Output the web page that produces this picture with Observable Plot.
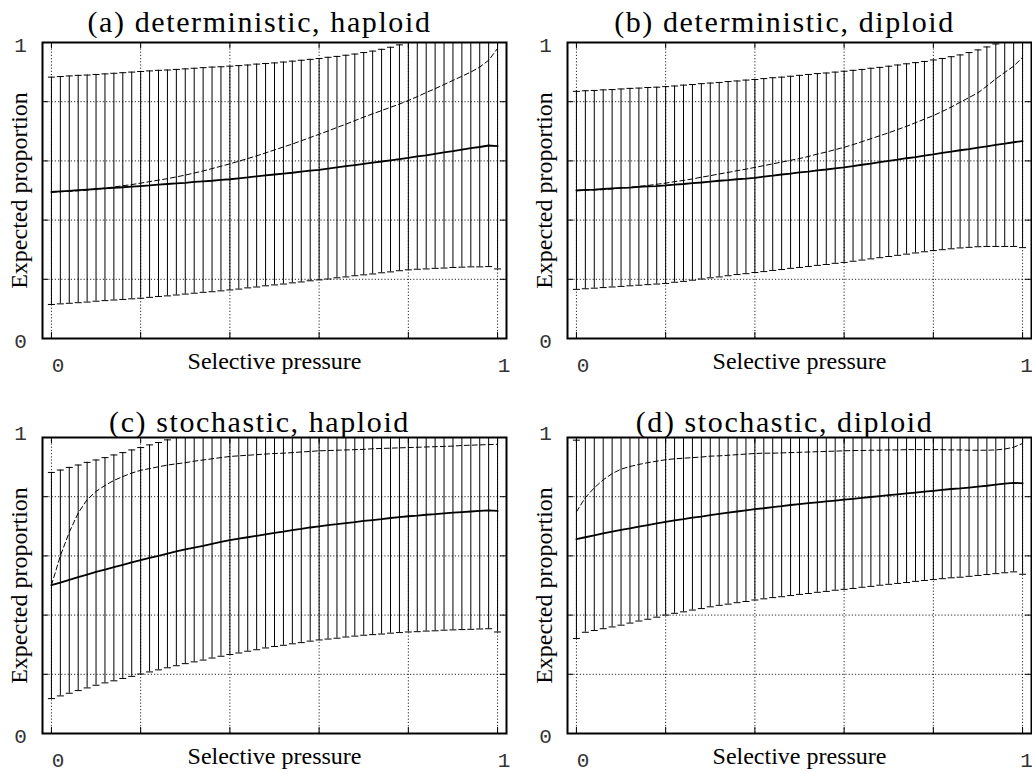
<!DOCTYPE html>
<html><head><meta charset="utf-8">
<script src="https://cdn.jsdelivr.net/npm/d3@7"></script>
<script src="https://cdn.jsdelivr.net/npm/@observablehq/plot@0.6"></script>
<style>
html,body{margin:0;padding:0;background:#fff;overflow:hidden;}
#root{position:relative;width:1032px;height:774px;overflow:hidden;}
.panel{position:absolute;}
</style></head><body><div id="root"></div>
<script>
// ---------- data ----------
const pressure = [0,0.02,0.04,0.06,0.08,0.1,0.12,0.14,0.16,0.18,0.2,0.22,0.24,0.26,0.28,0.3,0.32,0.34,0.36,0.38,0.4,0.42,0.44,0.46,0.48,0.5,0.52,0.54,0.56,0.58,0.6,0.62,0.64,0.66,0.68,0.7,0.72,0.74,0.76,0.78,0.8,0.82,0.84,0.86,0.88,0.9,0.92,0.94,0.96,0.98,1];

const titles = ["(a) deterministic, haploid","(b) deterministic, diploid","(c) stochastic, haploid","(d) stochastic, diploid"];
const yLabel = "Expected proportion";
const xLabel = "Selective pressure";
const xTicks = [0,0.2,0.4,0.6,0.8,1];
const yGrid = [0.2,0.4,0.6,0.8];
const yTicks = [0,0.2,0.4,0.6,0.8,1];

// (a) deterministic, haploid
const meanA = [.495,.497,.499,.501,.503,.505,.507,.509,.511,.513,.515,.517,.520,.522,.524,.526,.529,.531,.533,.536,.538,.541,.544,.548,.551,.554,.557,.560,.564,.567,.570,.574,.578,.582,.586,.590,.594,.598,.602,.606,.610,.615,.619,.624,.629,.633,.638,.643,.647,.652,.650];
const dashA = [.495,.496,.497,.499,.501,.505,.508,.512,.516,.520,.525,.530,.535,.540,.546,.552,.559,.566,.574,.582,.590,.599,.608,.617,.627,.637,.647,.657,.668,.679,.690,.701,.713,.724,.736,.748,.759,.770,.781,.792,.804,.817,.831,.844,.858,.872,.886,.900,.917,.940,.980];
const lowerA = [.115,.117,.119,.121,.123,.126,.128,.130,.132,.134,.136,.139,.142,.144,.147,.150,.153,.156,.158,.161,.164,.167,.171,.174,.178,.181,.184,.188,.191,.195,.198,.201,.205,.208,.212,.215,.218,.222,.225,.229,.232,.234,.235,.237,.238,.240,.241,.242,.242,.243,.235];
const upperA = [.883,.885,.887,.889,.890,.892,.894,.896,.898,.900,.902,.904,.906,.907,.909,.911,.913,.915,.917,.918,.920,.922,.924,.927,.929,.931,.934,.937,.940,.943,.946,.950,.953,.957,.961,.966,.971,.977,.984,.992,1,1,1,1,1,1,1,1,1,1,1];

// (b) deterministic, diploid
const meanB = [.500,.502,.503,.505,.507,.509,.510,.512,.514,.515,.517,.520,.522,.525,.527,.530,.533,.535,.538,.540,.543,.547,.550,.554,.557,.561,.564,.568,.571,.575,.578,.582,.587,.591,.596,.600,.604,.609,.613,.618,.622,.627,.631,.636,.640,.645,.649,.654,.658,.663,.667];
const dashB = [.500,.501,.502,.503,.505,.508,.511,.514,.517,.521,.525,.530,.534,.539,.545,.550,.556,.561,.567,.572,.578,.584,.590,.596,.602,.608,.615,.623,.630,.638,.646,.655,.665,.675,.685,.695,.706,.717,.729,.741,.753,.767,.782,.798,.814,.830,.853,.877,.899,.920,.950];
const lowerB = [.166,.168,.170,.172,.174,.176,.178,.180,.182,.184,.186,.190,.193,.197,.201,.205,.208,.212,.216,.219,.223,.226,.230,.233,.237,.240,.243,.247,.250,.254,.257,.261,.265,.269,.273,.277,.281,.285,.289,.293,.297,.300,.303,.306,.308,.310,.311,.311,.311,.311,.307];
const upperB = [.835,.837,.838,.840,.841,.843,.845,.846,.848,.849,.851,.853,.856,.858,.861,.863,.865,.868,.870,.873,.875,.878,.881,.883,.886,.889,.892,.895,.897,.900,.903,.906,.909,.913,.916,.920,.924,.928,.932,.936,.941,.946,.952,.958,.966,.975,.985,.995,1,1,1];

// (c) stochastic, haploid
const meanC = [.501,.510,.519,.528,.537,.546,.554,.562,.570,.578,.586,.593,.600,.608,.615,.622,.628,.634,.641,.647,.653,.658,.663,.668,.673,.678,.682,.687,.691,.696,.700,.704,.707,.711,.714,.718,.721,.724,.728,.731,.734,.736,.739,.741,.744,.746,.748,.750,.752,.754,.752];
const dashC = [.501,.600,.680,.745,.790,.818,.838,.855,.868,.880,.889,.895,.901,.907,.911,.915,.920,.924,.928,.932,.936,.938,.940,.942,.944,.946,.947,.949,.951,.953,.955,.956,.957,.958,.959,.960,.962,.963,.964,.965,.966,.967,.968,.969,.970,.971,.973,.974,.975,.976,.977];
const lowerC = [.118,.127,.136,.145,.154,.163,.171,.178,.186,.193,.201,.208,.215,.222,.229,.236,.242,.248,.255,.261,.267,.272,.278,.283,.289,.294,.298,.303,.307,.312,.316,.319,.322,.326,.329,.332,.334,.336,.339,.341,.343,.344,.346,.347,.349,.350,.351,.352,.353,.354,.343];
const upperC = [.882,.890,.899,.907,.916,.924,.932,.941,.949,.958,.966,.975,.983,.992,1,1,1,1,1,1,1,1,1,1,1,1,1,1,1,1,1,1,1,1,1,1,1,1,1,1,1,1,1,1,1,1,1,1,1,1,1];

// (d) stochastic, diploid
const meanD = [.657,.663,.669,.676,.682,.688,.693,.699,.704,.710,.715,.720,.724,.729,.733,.738,.742,.746,.750,.754,.758,.761,.765,.768,.772,.775,.778,.781,.784,.787,.790,.793,.796,.799,.802,.805,.808,.811,.814,.817,.820,.823,.826,.828,.831,.834,.837,.841,.844,.847,.845];
const dashD = [.749,.797,.830,.857,.878,.893,.902,.909,.915,.920,.925,.928,.930,.932,.934,.937,.938,.940,.942,.944,.946,.947,.947,.948,.949,.950,.951,.952,.953,.954,.955,.956,.956,.957,.957,.958,.958,.959,.959,.959,.959,.959,.958,.958,.957,.957,.957,.958,.961,.967,.980];
const lowerD = [.321,.342,.348,.354,.360,.366,.373,.380,.386,.393,.400,.406,.411,.417,.422,.428,.433,.437,.442,.446,.451,.455,.459,.462,.466,.470,.473,.477,.480,.484,.487,.490,.494,.497,.501,.504,.507,.510,.514,.517,.520,.523,.526,.528,.531,.534,.537,.540,.543,.546,.538];
const upperD = [.991,1,1,1,1,1,1,1,1,1,1,1,1,1,1,1,1,1,1,1,1,1,1,1,1,1,1,1,1,1,1,1,1,1,1,1,1,1,1,1,1,1,1,1,1,1,1,1,1,1,1];

// ---------- drawing ----------
const capSymbol = {draw(ctx, size){ const r = Math.sqrt(size/Math.PI); ctx.moveTo(-r,0); ctx.lineTo(r,0); }};
const serif = "'Liberation Serif', 'Times New Roman', serif";
const mono = "'Liberation Mono', 'Courier New', monospace";

const panels = [
  {title: titles[0], mean: meanA, dash: dashA, lower: lowerA, upper: upperA, left: 0,   top: 0,   width: 516, titleDy: -11, oneDy: 9.5, oneDx: 6.5},
  {title: titles[1], mean: meanB, dash: dashB, lower: lowerB, upper: upperB, left: 525, top: 0,   width: 507, titleDy: -11, oneDy: 9.5, oneDx: 4},
  {title: titles[2], mean: meanC, dash: dashC, lower: lowerC, upper: upperC, left: 0,   top: 395, width: 516, titleDy: -6,  oneDy: 2,   oneDx: 6.5},
  {title: titles[3], mean: meanD, dash: dashD, lower: lowerD, upper: upperD, left: 525, top: 395, width: 507, titleDy: -6,  oneDy: 2,   oneDx: 4}
];

const root = document.getElementById("root");
for (const p of panels) {
  const rows = pressure.map((x, i) => ({x, mean: p.mean[i], dash: p.dash[i], lo: p.lower[i], hi: p.upper[i]}));
  const tickText = {frameAnchor: "bottom", textAnchor: "middle", dy: 33.5, lineAnchor: "bottom", fontFamily: mono, fontSize: 21, fill: "#333"};
  const svg = Plot.plot({
    width: p.width, height: 387,
    marginLeft: 42, marginRight: p.width - 506, marginTop: 42, marginBottom: 49,
    x: {domain: [-0.02, 1.02], axis: null},
    y: {domain: [0, 1], axis: null},
    style: {background: "transparent", overflow: "visible"},
    marks: [
      Plot.ruleX(xTicks, {x: d => d, stroke: "#000", strokeOpacity: 0.85, strokeWidth: 1, strokeDasharray: "1.2,2"}),
      Plot.ruleY(yGrid, {y: d => d, stroke: "#000", strokeOpacity: 0.85, strokeWidth: 1, strokeDasharray: "1.2,2"}),
      Plot.tickX(xTicks, {x: d => d, insetTop: 290, stroke: "#000"}),
      Plot.tickX(xTicks, {x: d => d, insetBottom: 290, stroke: "#000"}),
      Plot.tickY(yTicks, {y: d => d, insetRight: 458, stroke: "#000"}),
      Plot.tickY(yTicks, {y: d => d, insetLeft: 458, stroke: "#000"}),
      Plot.ruleX(rows, {x: "x", y1: "lo", y2: "hi", stroke: "#000", strokeWidth: 1, clip: true}),
      Plot.dot(rows, {x: "x", y: "lo", symbol: capSymbol, r: 3.5, stroke: "#000", fill: "none", strokeWidth: 1, clip: true}),
      Plot.dot(rows.filter(d => d.hi < 1), {x: "x", y: "hi", symbol: capSymbol, r: 3.5, stroke: "#000", fill: "none", strokeWidth: 1, clip: true}),
      Plot.line(rows, {x: "x", y: "dash", stroke: "#000", strokeWidth: 1, strokeDasharray: "5,3", clip: true}),
      Plot.line(rows, {x: "x", y: "mean", stroke: "#000", strokeWidth: 1.8, clip: true}),
      Plot.frame({stroke: "#000", strokeWidth: 2}),
      Plot.text([p.title], {text: d => d, frameAnchor: "top", textAnchor: "middle", dx: -15, dy: p.titleDy, lineAnchor: "bottom", fontFamily: serif, fontSize: 30, fill: "#000"}),
      Plot.text([yLabel], {text: d => d, frameAnchor: "left", textAnchor: "middle", dx: -15.5, rotate: -90, lineAnchor: "bottom", fontFamily: serif, fontSize: 24, fill: "#000"}),
      Plot.text([xLabel], {text: d => d, frameAnchor: "bottom", textAnchor: "middle", dy: 30.5, lineAnchor: "bottom", fontFamily: serif, fontSize: 24, fill: "#000"}),
      Plot.text([{v: 0, t: "0"}], {x: "v", text: "t", dx: 6.5, ...tickText}),
      Plot.text([{v: 1, t: "1"}], {x: "v", text: "t", dx: p.oneDx, ...tickText}),
      Plot.text([{v: 0, t: "0"}], {y: "v", text: "t", frameAnchor: "left", textAnchor: "middle", dx: -22, dy: 9, lineAnchor: "bottom", fontFamily: mono, fontSize: 21, fill: "#333"}),
      Plot.text([{v: 1, t: "1"}], {y: "v", text: "t", frameAnchor: "left", textAnchor: "middle", dx: -22, dy: p.oneDy, lineAnchor: "bottom", fontFamily: mono, fontSize: 21, fill: "#333"})
    ]
  });
  svg.classList.add("panel");
  svg.style.left = p.left + "px";
  svg.style.top = p.top + "px";
  svg.style.position = "absolute";
  svg.querySelectorAll("text").forEach(t => { if (t.textContent === p.title) t.style.letterSpacing = "1.6px"; });
  root.appendChild(svg);
}
</script>
</body></html>
